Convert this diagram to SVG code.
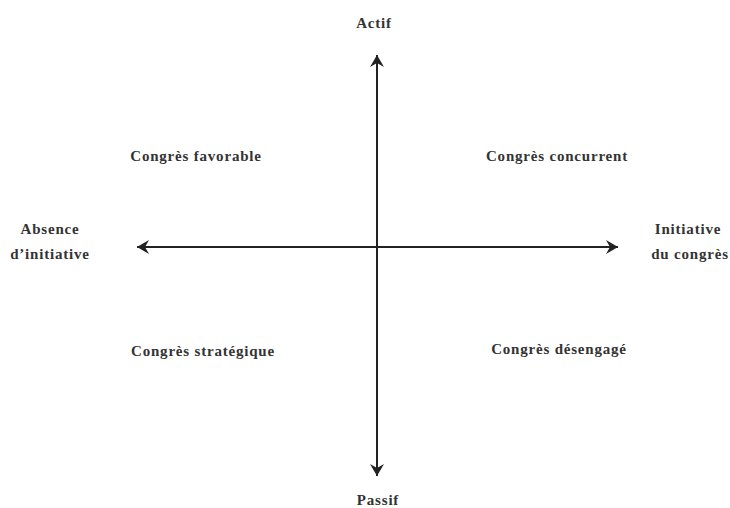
<svg xmlns="http://www.w3.org/2000/svg" width="730" height="508" viewBox="0 0 730 508">
<style>
.t{font-family:"Liberation Serif","Times New Roman",serif;font-weight:bold;font-size:15px;letter-spacing:0.8px;fill:#333;}
.ax{stroke:#222;stroke-width:2;fill:none;}
</style>
<defs>
<marker id="ah" viewBox="0 0 14 14" refX="12" refY="7" markerWidth="14" markerHeight="14" markerUnits="userSpaceOnUse" orient="auto">
<path d="M0,0 L12,7 L0,14 L4,7 Z" fill="#222"/>
</marker>
</defs>
<rect width="730" height="508" fill="#fff"/>
<g id="connectors">
<line class="ax" x1="377" y1="247" x2="377" y2="55" marker-end="url(#ah)"/>
<line class="ax" x1="377" y1="247" x2="377" y2="476" marker-end="url(#ah)"/>
<line class="ax" x1="377" y1="247" x2="137" y2="247" marker-end="url(#ah)"/>
<line class="ax" x1="377" y1="247" x2="618" y2="247" marker-end="url(#ah)"/>
</g>
<g id="actif"><text class="t" x="374" y="28" text-anchor="middle">Actif</text></g>
<g id="passif"><text class="t" x="378" y="505" text-anchor="middle">Passif</text></g>
<g id="absence"><text class="t" x="50" y="234" text-anchor="middle">Absence</text><text class="t" x="50" y="259" text-anchor="middle">d’initiative</text></g>
<g id="initiative"><text class="t" x="688" y="234" text-anchor="middle">Initiative</text><text class="t" x="690" y="259" text-anchor="middle">du congrès</text></g>
<g id="favorable"><text class="t" x="196" y="161" text-anchor="middle">Congrès favorable</text></g>
<g id="concurrent"><text class="t" x="557" y="161" text-anchor="middle">Congrès concurrent</text></g>
<g id="strategique"><text class="t" x="203" y="356" text-anchor="middle">Congrès stratégique</text></g>
<g id="desengage"><text class="t" x="559" y="354" text-anchor="middle">Congrès désengagé</text></g>
</svg>
